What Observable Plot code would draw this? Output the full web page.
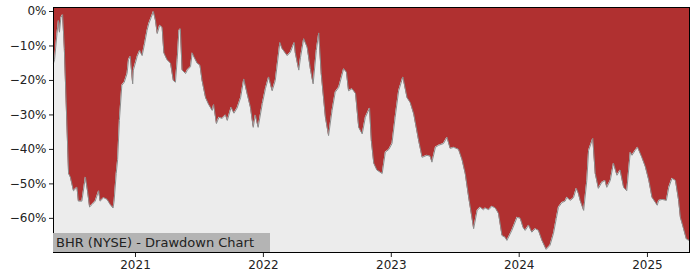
<!DOCTYPE html>
<html><head><meta charset="utf-8">
<script src="https://cdn.jsdelivr.net/npm/d3@7"></script>
<script src="https://cdn.jsdelivr.net/npm/@observablehq/plot@0.6"></script>
<style>
body{margin:0;background:#fff;}
#wrap{position:relative;width:700px;height:280px;}
#label{position:absolute;left:53px;top:233px;height:19px;width:217px;background:#b4b4b4;font:13px "DejaVu Sans";color:#222;line-height:19px;padding-left:3px;box-sizing:border-box;white-space:nowrap;}
</style></head><body><div id="wrap"><div id="label"></div></div>
<script>
const title = "BHR (NYSE) - Drawdown Chart";
const dates = [
"2020-05-12","2020-05-15","2020-05-22","2020-05-26","2020-05-29","2020-06-02","2020-06-07","2020-06-12","2020-06-17","2020-06-24","2020-06-29","2020-07-08","2020-07-18","2020-07-22","2020-08-01","2020-08-11","2020-08-17","2020-08-23","2020-08-30","2020-09-08","2020-09-18","2020-09-22","2020-10-02","2020-10-12","2020-10-21","2020-10-29","2020-11-01","2020-11-07","2020-11-11","2020-11-16","2020-11-23","2020-11-30","2020-12-08","2020-12-12","2020-12-17","2020-12-24","2020-12-26",
"2021-01-06","2021-01-13","2021-01-20","2021-01-27","2021-02-03","2021-02-08","2021-02-15","2021-02-21","2021-02-27","2021-03-04","2021-03-11","2021-03-18","2021-03-23","2021-04-01","2021-04-11","2021-04-19","2021-04-25","2021-04-30","2021-05-05","2021-05-09","2021-05-14","2021-05-24","2021-05-29","2021-06-07","2021-06-12","2021-06-16","2021-06-26","2021-07-04","2021-07-10","2021-07-20","2021-07-29","2021-08-08","2021-08-12","2021-08-20","2021-08-27","2021-09-05","2021-09-15","2021-09-20","2021-10-01","2021-10-09","2021-10-18","2021-10-28","2021-11-06","2021-11-16","2021-11-25","2021-12-03","2021-12-09","2021-12-17","2021-12-29",
"2022-01-07","2022-01-16","2022-01-26","2022-02-04","2022-02-17","2022-02-23","2022-03-10","2022-03-19","2022-03-30","2022-04-02","2022-04-12","2022-04-17","2022-04-26","2022-05-06","2022-05-15","2022-05-23","2022-06-01","2022-06-08","2022-06-15","2022-06-27","2022-07-06","2022-07-16","2022-07-25","2022-08-04","2022-08-18","2022-08-26","2022-09-01","2022-09-11","2022-09-21","2022-09-30","2022-10-10","2022-10-19","2022-10-31","2022-11-05","2022-11-12","2022-11-21","2022-12-06","2022-12-15","2022-12-25",
"2023-01-03","2023-01-12","2023-01-22","2023-02-03","2023-02-15","2023-02-24","2023-03-06","2023-03-20","2023-03-30","2023-04-13","2023-04-22","2023-04-27","2023-05-07","2023-05-16","2023-05-30","2023-06-09","2023-06-18","2023-06-28","2023-07-12","2023-07-22","2023-07-31","2023-08-10","2023-08-19","2023-08-24","2023-09-03","2023-09-12","2023-09-21","2023-09-26","2023-10-06","2023-10-15","2023-10-25","2023-11-03","2023-11-13","2023-11-22","2023-11-27","2023-12-11","2023-12-26",
"2024-01-04","2024-01-12","2024-01-18","2024-01-28","2024-02-06","2024-02-16","2024-02-25","2024-03-06","2024-03-18","2024-03-29","2024-04-08","2024-04-16","2024-04-22","2024-05-02","2024-05-11","2024-05-16","2024-05-26","2024-06-04","2024-06-12","2024-06-18","2024-06-23","2024-07-03","2024-07-12","2024-07-17","2024-07-29","2024-08-05","2024-08-14","2024-08-24","2024-09-02","2024-09-07","2024-09-17","2024-09-26","2024-10-06","2024-10-15","2024-10-25","2024-11-03","2024-11-13","2024-11-18","2024-11-27","2024-12-04","2024-12-16","2024-12-26",
"2025-01-05","2025-01-14","2025-01-29","2025-02-02","2025-02-12","2025-02-24","2025-03-03","2025-03-12","2025-03-22","2025-03-31","2025-04-05","2025-04-13","2025-04-22","2025-05-01"
];
const drawdown = [
-15,-14,-6.4,-2.6,-6,-1.8,-0.9,-11,-26,-47,-48,-52,-51,-55,-55,-48,-52,-56.7,-56,-55,-52,-55,-54,-54.5,-56,-57,-55,-47,-43,-31.6,-21.4,-20.5,-18,-14,-13,-21,-17,
-13,-11.3,-12.8,-9.3,-5.5,-3.5,-1.7,0,-2.6,-6.4,-4,-4.6,-12,-14,-15,-20,-20.5,-14,-5.5,-5,-17,-18,-17,-16,-12,-13,-15,-15.6,-20,-25,-27,-28.7,-27,-32.5,-30.7,-31,-30,-31.6,-27.8,-29.5,-28,-25,-19.6,-24,-27.8,-33.6,-30,-33.6,-26.7,
-22.3,-19,-23,-20,-9,-10.7,-12.8,-11.8,-9,-12,-17,-13.3,-7.9,-10.4,-16.6,-21,-11.3,-6.2,-18,-30.7,-36,-28.7,-23.4,-22,-16.6,-17.6,-23,-22.4,-23.8,-33.6,-35.5,-30.7,-28,-37.4,-44,-46,-47,-40.8,-40,
-38.3,-30.7,-23,-19,-25,-26.4,-29.7,-37.4,-42.3,-41.7,-42,-43.7,-39.4,-38.8,-38.3,-36.5,-39.7,-39.4,-40,-43,-47,-54,-59.7,-63,-57.7,-56.8,-57.5,-57,-57.5,-56.5,-57,-58.6,-65,-65.5,-66.4,-63.5,-59.7,
-60,-62.6,-63.5,-62,-64,-63,-63.5,-66.4,-69,-67.8,-64.3,-60,-56.8,-55.4,-55,-53.9,-54.8,-54,-51.3,-52.8,-54.8,-57.7,-49,-40.3,-36.8,-47,-51.3,-49.5,-49,-51,-49,-44,-47.5,-46,-51,-52,-40.8,-41.7,-40.3,-39.4,-42.3,-45,
-49,-53.9,-56.2,-54.8,-54.5,-54.8,-51,-48.4,-49,-54.8,-59.7,-62.6,-66,-66.5
];
const yearTicks = ["2021-01-01","2022-01-01","2023-01-01","2024-01-01","2025-01-01"];
const yTicks = [0,-10,-20,-30,-40,-50,-60];
const yTop = 1.16, yBottom = -69.9;

const data = dates.map((d,i)=>({date:new Date(d), dd:drawdown[i]}));
const chart = Plot.plot({
  width:700, height:280,
  marginLeft:53, marginRight:11, marginTop:7, marginBottom:28,
  style:{fontFamily:"DejaVu Sans", fontSize:"12px", background:"white", color:"#222", overflow:"visible"},
  x:{type:"utc", domain:[data[0].date, data[data.length-1].date], ticks:yearTicks.map(d=>new Date(d)), tickFormat:d3.utcFormat("%Y"), tickSize:5, tickPadding:3, label:null},
  y:{domain:[yBottom,yTop], ticks:yTicks, tickFormat:d=> d===0 ? "0%" : "\u2212"+Math.abs(d)+"%", tickSize:4, tickPadding:3, label:null},
  marks:[
    Plot.frame({fill:"#ececec"}),
    Plot.areaY(data,{x:"date", y1:"dd", y2:()=>yTop, fill:"#b03030"}),
    Plot.lineY(data,{x:"date", y:"dd", stroke:"#8c8c8c", strokeWidth:1}),
    Plot.frame({stroke:"black", strokeWidth:1})
  ]
});
const wrap = document.getElementById("wrap");
wrap.insertBefore(chart, wrap.firstChild);
const lab = document.getElementById("label");
lab.textContent = title;
</script>
</body></html>
